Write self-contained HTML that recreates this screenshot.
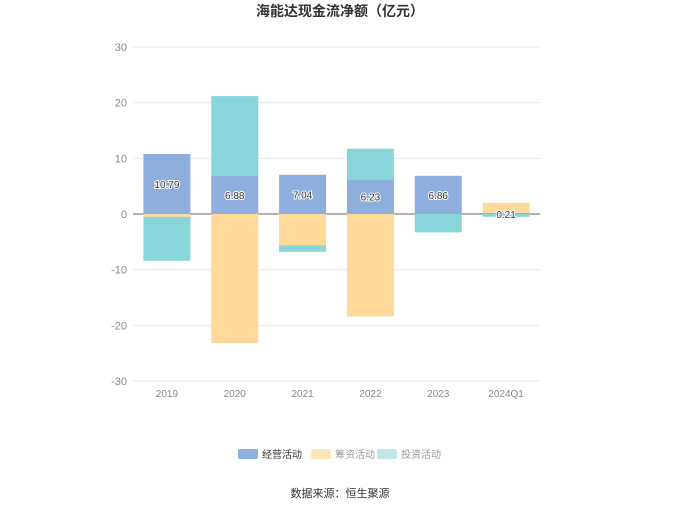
<!DOCTYPE html>
<html><head><meta charset="utf-8"><style>
body{margin:0;background:#fff;font-family:"Liberation Sans","Noto Sans CJK SC",sans-serif}
</style></head><body>
<svg id="c" width="680" height="509" style="display:block">
<text x="340" y="16" text-anchor="middle" font-size="14" font-weight="bold" fill="#333">海能达现金流净额（亿元）</text>
<text x="340" y="497" text-anchor="middle" font-size="11" fill="#333">数据来源：恒生聚源</text>
</svg>
<script>
const categories=["2019","2020","2021","2022","2023","2024Q1"];
const operating=[10.79,6.88,7.04,6.23,6.86,0.21];
const financing=[-0.5,-23.2,-5.6,-18.4,0,1.8];
const investing=[-7.9,14.3,-1.2,5.5,-3.3,-0.5];
const yTicks=[30,20,10,0,-10,-20,-30];
const seriesNames=["经营活动","筹资活动","投资活动"];
const colors=["#8eaedd","#ffd999","#88d6d9"];
const legendColors=["#8eaedd","#ffe4b8","#bde8ea"];
const svg=document.getElementById('c');const NS="http://www.w3.org/2000/svg";
const L=133,R=540,T=47,B=381;
const y=v=>T+(30-v)/60*(B-T);
const bw=(R-L)/categories.length;
const x=i=>L+bw*i+bw/2;
function mk(t,a){const e=document.createElementNS(NS,t);for(const k in a)e.setAttribute(k,a[k]);svg.appendChild(e);return e;}
yTicks.forEach(v=>{
 const g=mk('line',{x1:L,x2:R,y1:y(v),y2:y(v),stroke:v===0?'#666':'#e6e8f0','stroke-width':1});
 
 
 const t=mk('text',{x:L-6,y:y(v)+4,'text-anchor':'end','font-size':11,fill:'#888'});t.textContent=v;
 
 
});
const series=[operating,financing,investing];
categories.forEach((c,i)=>{
 let pos=0,neg=0;
 series.forEach((s,k)=>{
  const v=s[i];if(!v)return;
  let a,b;if(v>=0){a=pos;b=pos+v;pos=b;}else{a=neg;b=neg+v;neg=b;}
  const r=mk('rect',{x:x(i)-23.5,y:Math.min(y(a),y(b)),width:47,height:Math.abs(y(a)-y(b)),fill:colors[k]});
  
  
 });
 const t=mk('text',{x:x(i),y:B+16,'text-anchor':'middle','font-size':10,fill:'#888'});t.textContent=c;
 
 
});
categories.forEach((c,i)=>{
 const v=operating[i];
 const t=mk('text',{x:x(i),y:(i===5?y(0):y(v/2))+4,'text-anchor':'middle','font-size':10,fill:'#333',stroke:'#fff','stroke-width':2,'paint-order':'stroke'});
 t.textContent=v.toFixed(2);
 
 
});
const lx=[238,311,377];
seriesNames.forEach((n,k)=>{
 const r=mk('rect',{x:lx[k],y:449,width:20,height:10,rx:2,fill:legendColors[k]});
 
 
 const t=mk('text',{x:lx[k]+24,y:458,'font-size':10,fill:k===0?'#333':'#999'});t.textContent=n;
 
 
});
</script>
</body></html>
